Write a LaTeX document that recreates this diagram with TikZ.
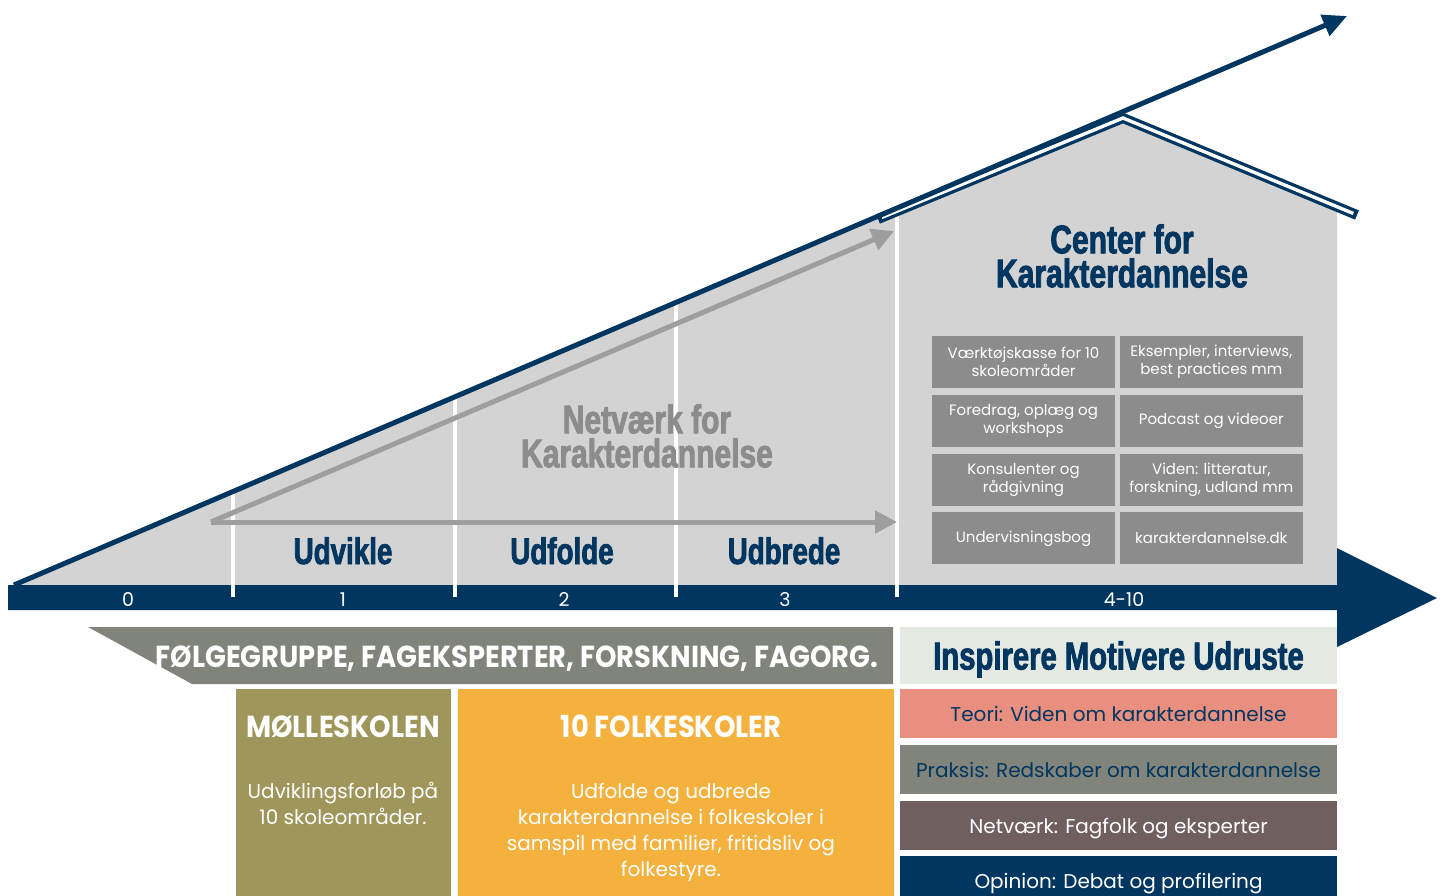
\documentclass[tikz,border=0pt]{standalone}
\usepackage{fontspec}
\setmainfont{Poppins}
\newfontfamily\impactfont{Liberation Sans}[FakeStretch=0.75, FakeBold=2]
\newfontfamily\condfont{Poppins}[FakeStretch=0.9]
\usepackage{tikz}
\usetikzlibrary{arrows.meta,positioning}
\usepackage{xcolor}
\definecolor{kdnavy}{RGB}{0,54,96}
\definecolor{kdlight}{RGB}{211,211,211}
\definecolor{kdarrow}{RGB}{158,158,158}
\definecolor{kdbox}{RGB}{140,140,140}
\definecolor{kdnettext}{RGB}{140,140,140}
\definecolor{kdsage}{RGB}{128,132,122}
\definecolor{kdmint}{RGB}{228,233,225}
\definecolor{kdsalmon}{RGB}{232,143,128}
\definecolor{kdbrown}{RGB}{112,95,95}
\definecolor{kdolive}{RGB}{158,150,90}
\definecolor{kdorange}{RGB}{244,177,61}
\tikzstyle{phase} = [font=\impactfont\bfseries\fontsize{18.5}{18.5}\selectfont, text=kdnavy, inner sep=0pt, anchor=base]
\tikzstyle{tick} = [font=\fontsize{9.5}{10}\selectfont, text=white, inner sep=0pt, anchor=base]
\tikzstyle{title} = [font=\impactfont\bfseries\fontsize{20}{17}\selectfont, align=center, inner sep=0pt]
\tikzstyle{toolbox} = [rectangle, fill=kdbox, text=white, minimum width=91.5pt, minimum height=26pt, inner sep=0pt, align=center, font=\fontsize{7.5}{9}\selectfont]
\tikzstyle{stripe} = [rectangle, minimum width=218.5pt, minimum height=24.5pt, inner sep=0pt, text height=9pt, text depth=1pt, font=\fontsize{10}{11}\selectfont]
\tikzstyle{schoolbox} = [rectangle, minimum height=111pt, inner sep=0pt]
\tikzstyle{schooltitle} = [font=\condfont\bfseries\fontsize{15.2}{15.2}\selectfont, text=white, inner sep=0pt, anchor=base]
\tikzstyle{schooltext} = [font=\fontsize{10}{13}\selectfont, text=white, align=center, inner sep=0pt]
\tikzstyle{growarrow} = [line width=2.5pt, kdarrow, -{Triangle[length=11pt,width=11pt]}]
\tikzstyle{trend} = [line width=2.5pt, kdnavy, -{Triangle[length=12pt,width=11pt]}]
\tikzstyle{divider} = [line width=2pt, white]

\begin{document}
\begin{tikzpicture}[x=0.5pt, y=-0.5pt, node distance=3pt]
\clip (0,0) rectangle (1445,895);
% Anchor points
\coordinate (origin) at (14,585);
\coordinate (trendtip) at (1347,16);
\coordinate (growstart) at (211,522);
\coordinate (growtop) at (894,231);
\coordinate (growright) at (897,522);

% Grey hill and house
\fill[kdlight] (12,585) -- (880,218) -- (1123,120) -- (1337,209) -- (1337,585) -- cycle;

% Time axis
\fill[kdnavy] (8,585) -- (1337,585) -- (1337,548) -- (1437,598) -- (1337,647) -- (1337,610) -- (8,610) -- cycle;

% Phase dividers
\draw[divider] (233,490) -- (233,597);
\draw[divider] (455,396) -- (455,597);
\draw[divider] (676,302) -- (676,597);
\draw[divider] (897,214) -- (897,597);

% Growth arrows
\draw[growarrow] (growstart) -- (growtop);
\draw[growarrow] (growstart) -- (growright);

% Roof
\draw[kdnavy, line width=5pt] (878,219) -- (1123,118) -- (1357,215);
\draw[white, line width=1.7pt, shorten <=2pt, shorten >=2pt] (878,219) -- (1123,118) -- (1357,215);

% Trend line
\draw[trend] (origin) -- (trendtip);

% Phases
\node (udvikle) [phase] at (343,564) {Udvikle};
\node (udfolde) [phase] at (562,564) {Udfolde};
\node (udbrede) [phase] at (784,564) {Udbrede};

% Years
\node (year0) [tick] at (128,606) {0};
\node (year1) [tick] at (343,606) {1};
\node (year2) [tick] at (564,606) {2};
\node (year3) [tick] at (785,606) {3};
\node (year4) [tick] at (1124,606) {4-10};

% Titles
\node (centre) [title, text=kdnavy] at (1122,256) {Center for\\Karakterdannelse};
\node (network) [title, text=kdnettext] at (647,436) {Netværk for\\Karakterdannelse};

% Toolbox
\node (tool1) [toolbox] at (1023.5,362) {Værktøjskasse for 10\\skoleområder};
\node (tool2) [toolbox, right=2pt of tool1] {Eksempler, interviews,\\best practices mm};
\node (tool3) [toolbox, below=of tool1] {Foredrag, oplæg og\\workshops};
\node (tool4) [toolbox, below=of tool2] {Podcast og videoer};
\node (tool5) [toolbox, below=of tool3] {Konsulenter og\\rådgivning};
\node (tool6) [toolbox, below=of tool4] {Viden: litteratur,\\forskning, udland mm};
\node (tool7) [toolbox, below=of tool5] {Undervisningsbog};
\node (tool8) [toolbox, below=of tool6] {karakterdannelse.dk};

% Support band
\fill[kdsage] (88,627) -- (893,627) -- (893,684) -- (192,684) -- cycle;
\node (support) [font=\condfont\bfseries\fontsize{15.2}{15.2}\selectfont, text=white, inner sep=0pt, anchor=base] at (517,667) {FØLGEGRUPPE, FAGEKSPERTER, FORSKNING, FAGORG.};

% Centre activities
\node (inspire) [stripe, fill=kdmint, minimum height=28.5pt, text height=14pt, text depth=0pt, text=kdnavy, font=\impactfont\bfseries\fontsize{19.5}{19.5}\selectfont] at (1118.5,655.5) {Inspirere Motivere Udruste};
\node (teori) [stripe, fill=kdsalmon, text=kdnavy] at (1118.5,713.5) {Teori: Viden om karakterdannelse};
\node (praksis) [stripe, fill=kdsage, text=kdnavy, below=of teori] {Praksis: Redskaber om karakterdannelse};
\node (netvaerk) [stripe, fill=kdbrown, text=white, below=of praksis] {Netværk: Fagfolk og eksperter};
\node (opinion) [stripe, fill=kdnavy, text=white, below=of netvaerk] {Opinion: Debat og profilering};

% Schools
\node (molle) [schoolbox, fill=kdolive, minimum width=107.5pt, anchor=north west] at (236,689) {};
\node (folke) [schoolbox, fill=kdorange, minimum width=218pt, right=of molle] {};
\node (molletitle) [schooltitle] at (343,737) {MØLLESKOLEN};
\node (molletext) [schooltext, below=22pt of molletitle] {Udviklingsforløb på\\10 skoleområder.};
\node (folketitle) [schooltitle] at (671,737) {10 FOLKESKOLER};
\node (folketext) [schooltext, below=22.5pt of folketitle] {Udfolde og udbrede\\karakterdannelse i folkeskoler i\\samspil med familier, fritidsliv og\\folkestyre.};
\end{tikzpicture}
\end{document}
